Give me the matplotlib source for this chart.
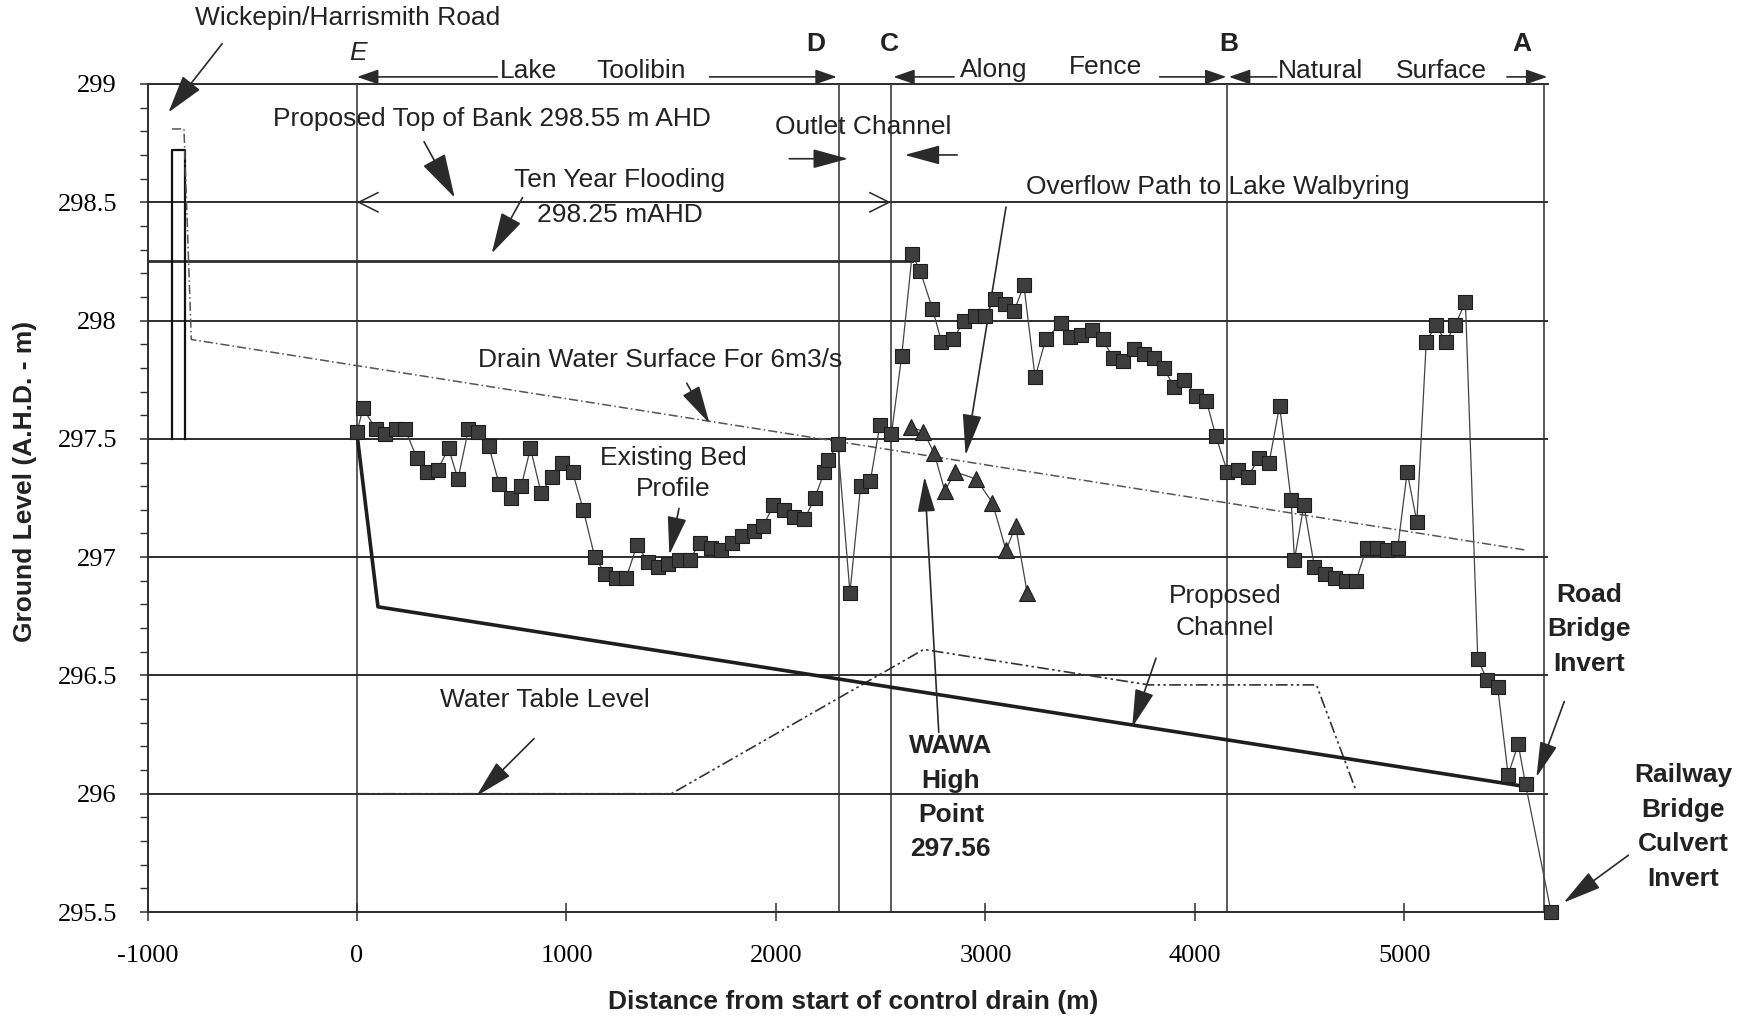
import matplotlib.pyplot as plt
from matplotlib.ticker import MultipleLocator, FuncFormatter

# existing bed profile (squares), distance (m) and level (m AHD)
bed_dist = [0, 29, 90, 134, 185, 230, 285, 334, 386, 437, 482, 532, 577, 629, 678,
            733, 784, 828, 879, 930, 980, 1029, 1080, 1135, 1186, 1235, 1284, 1336,
            1391, 1437, 1486, 1537, 1588, 1637, 1688, 1737, 1789, 1838, 1893, 1938,
            1988, 2038, 2088, 2136, 2185, 2231, 2249, 2295, 2353, 2404, 2450, 2496,
            2551, 2600, 2650, 2688, 2747, 2790, 2845, 2898, 2948, 2997, 3047, 3094,
            3137, 3183, 3237, 3287, 3360, 3405, 3455, 3508, 3559, 3611, 3657, 3710,
            3755, 3805, 3850, 3900, 3950, 4005, 4055, 4100, 4155, 4205, 4255, 4304,
            4354, 4404, 4459, 4475, 4520, 4570, 4620, 4669, 4719, 4769, 4819, 4868,
            4918, 4968, 5013, 5059, 5104, 5150, 5197, 5242, 5291, 5350, 5395, 5445,
            5495, 5543, 5578, 5700]
bed_level = [297.53, 297.63, 297.54, 297.52, 297.54, 297.54, 297.42, 297.36, 297.37,
             297.46, 297.33, 297.54, 297.53, 297.47, 297.31, 297.25, 297.30, 297.46,
             297.27, 297.34, 297.40, 297.36, 297.20, 297.00, 296.93, 296.91, 296.91,
             297.05, 296.98, 296.96, 296.97, 296.99, 296.99, 297.06, 297.04, 297.03,
             297.06, 297.09, 297.11, 297.13, 297.22, 297.20, 297.17, 297.16, 297.25,
             297.36, 297.41, 297.48, 296.85, 297.30, 297.32, 297.56, 297.52, 297.85,
             298.28, 298.21, 298.05, 297.91, 297.92, 298.00, 298.02, 298.02, 298.09,
             298.07, 298.04, 298.15, 297.76, 297.92, 297.99, 297.93, 297.94, 297.96,
             297.92, 297.84, 297.83, 297.88, 297.86, 297.84, 297.80, 297.72, 297.75,
             297.68, 297.66, 297.51, 297.36, 297.37, 297.34, 297.42, 297.40, 297.64,
             297.24, 296.99, 297.22, 296.96, 296.93, 296.91, 296.90, 296.90, 297.04,
             297.04, 297.03, 297.04, 297.36, 297.15, 297.91, 297.98, 297.91, 297.98,
             298.08, 296.57, 296.48, 296.45, 296.08, 296.21, 296.04, 295.50]

# WAWA survey (triangles)
wawa_dist = [2645, 2704, 2755, 2806, 2855, 2956, 3033, 3098, 3144, 3199]
wawa_level = [297.55, 297.53, 297.44, 297.28, 297.36, 297.33, 297.23, 297.03, 297.13, 296.85]

# proposed channel invert
chan_dist = [0, 100, 5580]
chan_level = [297.52, 296.79, 296.03]

# drain water surface for 6 m3/s
surf_dist = [-883, -826, -791, 5579]
surf_level = [298.81, 298.81, 297.92, 297.03]

# water table level
wt_dist = [0, 1500, 2705, 3780, 4580, 4770]
wt_level = [296.0, 296.0, 296.61, 296.46, 296.46, 296.01]

# road embankment at Wickepin/Harrismith Road
road_dist = [-882, -882, -822, -822]
road_level = [297.5, 298.72, 298.72, 297.5]

# ten year flooding level
flood_dist = [-1000, 2650]
flood_level = [298.25, 298.25]

section_names = ['E', 'D', 'C', 'B', 'A']
section_dist = [0, 2300, 2548, 4155, 5665]

x_ticks = [-1000, 0, 1000, 2000, 3000, 4000, 5000]

plt.rcParams['font.family'] = ['Liberation Sans', 'DejaVu Sans']
plt.rcParams['axes.unicode_minus'] = False
INK = '#2e2e2e'
FS = 19

fig = plt.figure(figsize=(17.52, 10.18), dpi=100)
ax = fig.add_axes([0.0842, 0.1041, 0.7991, 0.8134])
ax.set_xlim(-1000, 5683)
ax.set_ylim(295.5, 299)

# grid and section lines
ax.yaxis.grid(True, color=INK, lw=1.4)
ax.vlines(section_dist, 295.5, 299, color=INK, lw=1.1, zorder=1.5)

ax.spines['right'].set_visible(False)
for s in ['left', 'bottom', 'top']:
    ax.spines[s].set_color(INK)
    ax.spines[s].set_linewidth(1.4)

# series
ax.plot(flood_dist, flood_level, color=INK, lw=2.0)
ax.plot(road_dist, road_level, color='#111111', lw=1.6)
ax.plot(surf_dist, surf_level, color='#555555', lw=1.1, ls=(0, (6, 2, 1, 2)))
ax.plot(wt_dist, wt_level, color='#333333', lw=1.2, ls=(0, (7, 2, 1.5, 2, 1.5, 2)))
ax.plot(chan_dist, chan_level, color='#1e1e1e', lw=2.6)
ax.plot(bed_dist, bed_level, color='#444444', lw=0.9, marker='s', ms=10.5,
        mfc='#3d3d3d', mec='#1c1c1c', mew=0.8, clip_on=False, zorder=4)
ax.plot(wawa_dist, wawa_level, color='#444444', lw=0.9, marker='^', ms=11,
        mfc='#3d3d3d', mec='#1c1c1c', mew=0.8, zorder=4)

# ticks
ax.set_xticks(x_ticks)
ax.set_yticks([295.5, 296, 296.5, 297, 297.5, 298, 298.5, 299])
ax.yaxis.set_minor_locator(MultipleLocator(0.1))
ax.yaxis.set_major_formatter(FuncFormatter(lambda v, p: f'{v:g}'))
ax.tick_params(axis='x', direction='inout', length=13, width=1.1, color=INK, pad=17,
               labelsize=FS, labelfontfamily='Liberation Serif')
ax.tick_params(axis='y', which='major', direction='out', length=6, width=1.1, color=INK,
               pad=16, labelsize=FS, labelfontfamily='Liberation Serif')
ax.tick_params(axis='y', which='minor', direction='out', length=6, width=1.0, color=INK)

fig.text(0.014, 0.527, 'Ground Level (A.H.D. - m)', rotation=90, ha='center', va='center',
         fontsize=FS, fontweight='bold', color='#222222')
fig.text(0.487, 0.016, 'Distance from start of control drain (m)', ha='center', va='center',
         fontsize=FS, fontweight='bold', color='#222222')


def txt(x, y, s, bold=False, **kw):
    ax.text(x, y, s, ha='center', va='center', fontsize=FS, color='#222222',
            fontweight='bold' if bold else 'normal', clip_on=False, **kw)


def arrow(x0, y0, x1, y1, hl=2.4, hw=0.6, lw=1.2, style='-|>'):
    ax.annotate('', xy=(x1, y1), xytext=(x0, y0), annotation_clip=False,
                arrowprops=dict(arrowstyle=f'{style},head_length={hl},head_width={hw}',
                                lw=lw, color='#2a2a2a', shrinkA=0, shrinkB=0,
                                mutation_scale=10))


# section letters and reach labels along the top
label_x = [4, 2188, 2539, 4161, 5559]
for name, lx in zip(section_names, label_x):
    if name == 'E':
        txt(lx, 299.13, name, style='italic')
    else:
        txt(lx, 299.17, name, bold=True)

txt(817, 299.055, 'Lake')
txt(1356, 299.055, 'Toolibin')
txt(3039, 299.06, 'Along')
txt(3573, 299.07, 'Fence')
txt(4601, 299.055, 'Natural')
txt(5178, 299.055, 'Surface')
arrow(670, 299.03, 0, 299.03, hl=1.3, hw=0.45)
arrow(1683, 299.03, 2290, 299.03, hl=1.3, hw=0.45)
arrow(2850, 299.03, 2560, 299.03, hl=1.3, hw=0.45)
arrow(3831, 299.03, 4150, 299.03, hl=1.3, hw=0.45)
arrow(4390, 299.03, 4162, 299.03, hl=1.3, hw=0.45)
arrow(5489, 299.03, 5682, 299.03, hl=1.3, hw=0.45)

# annotations
txt(-43, 299.28, 'Wickepin/Harrismith Road')
arrow(-644, 299.17, -900, 298.88, hl=2.4, hw=0.7)

txt(644, 298.85, 'Proposed Top of Bank 298.55 m AHD')
arrow(320, 298.756, 466, 298.52, hl=2.8, hw=0.8)

txt(2415, 298.82, 'Outlet Channel')
arrow(2063, 298.684, 2344, 298.684, hl=2.2, hw=0.6)
arrow(2865, 298.70, 2614, 298.70, hl=2.2, hw=0.6)

arrow(0, 298.5, 2548, 298.5, hl=1.4, hw=0.7, lw=1.1, style='<->')
txt(1255, 298.594, 'Ten Year Flooding')
txt(1255, 298.448, '298.25 mAHD')
arrow(790, 298.52, 643, 298.284, hl=2.6, hw=0.7)

txt(4110, 298.566, 'Overflow Path to Lake Walbyring')
arrow(3098, 298.48, 2905, 297.43, hl=2.6, hw=0.6)

txt(1446, 297.833, 'Drain Water Surface For 6m3/s')
arrow(1574, 297.735, 1683, 297.565, hl=2.4, hw=0.6)

txt(1508, 297.42, 'Existing Bed')
txt(1508, 297.29, 'Profile')
arrow(1537, 297.206, 1491, 297.01, hl=2.4, hw=0.6)

txt(4143, 296.835, 'Proposed')
txt(4143, 296.70, 'Channel')
arrow(3814, 296.573, 3700, 296.28, hl=2.4, hw=0.6)

txt(898, 296.395, 'Water Table Level')
arrow(845, 296.233, 570, 295.99, hl=2.4, hw=0.6)

for i, line in enumerate(['WAWA', 'High', 'Point', '297.56']):
    txt(2835, 296.20 - i * 0.145, line, bold=True)
arrow(2777, 296.26, 2709, 297.34, hl=2.2, hw=0.55)

for i, line in enumerate(['Road', 'Bridge', 'Invert']):
    txt(5880, 296.84 - i * 0.145, line, bold=True)
arrow(5763, 296.39, 5630, 296.07, hl=2.2, hw=0.55)

for i, line in enumerate(['Railway', 'Bridge', 'Culvert', 'Invert']):
    txt(6330, 296.08 - i * 0.147, line, bold=True)
arrow(6069, 295.74, 5760, 295.54, hl=2.4, hw=0.6)

fig.savefig('out.png', dpi=100, facecolor='white')
